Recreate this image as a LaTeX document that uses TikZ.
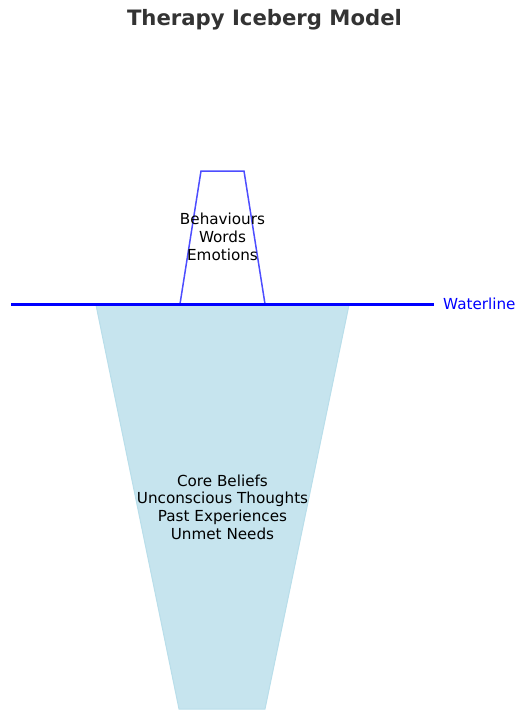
\documentclass[tikz,border=0pt]{standalone}
\usepackage{fontspec}
\setmainfont{DejaVu Sans}
\usepackage{tikz}
\usetikzlibrary{positioning}
\definecolor{tipEdge}{RGB}{77,77,255}
\definecolor{iceFill}{RGB}{198,228,238}
\definecolor{iceEdge}{RGB}{185,222,234}
\definecolor{titleGray}{RGB}{51,51,51}
\begin{document}
\begin{tikzpicture}[x=1pt,y=-1pt,
  lbl/.style={align=center,font=\fontsize{15.2}{17.7}\selectfont,inner sep=0pt},
  tip/.style={draw=tipEdge,line width=1.5pt,line join=miter},
  body/.style={fill=iceFill,draw=iceEdge,line width=1pt},
  water/.style={draw=blue,line width=3pt}]
\useasboundingbox (0,0) rectangle (529,720);
\node[font=\bfseries\fontsize{21.2}{25}\selectfont,text=titleGray] (title) at (264.5,20) {Therapy Iceberg Model};
% hidden part
\draw[body] (96,305) -- (349,305) -- (265,709) -- (179,709) -- cycle;
% visible tip
\draw[tip] (180,304) -- (201,171) -- (244,171) -- (265,304);
% waterline
\coordinate (wl) at (11,304);
\coordinate (wr) at (434,304);
\draw[water] (wl) -- (wr);
\node[lbl,text=blue,anchor=west,right=9pt of wr] (wtext) {Waterline};
\node[lbl] (above) at (222.5,237) {Behaviours\\Words\\Emotions};
\node[lbl] (below) at (222.5,507) {Core Beliefs\\Unconscious Thoughts\\Past Experiences\\Unmet Needs};
\end{tikzpicture}
\end{document}
